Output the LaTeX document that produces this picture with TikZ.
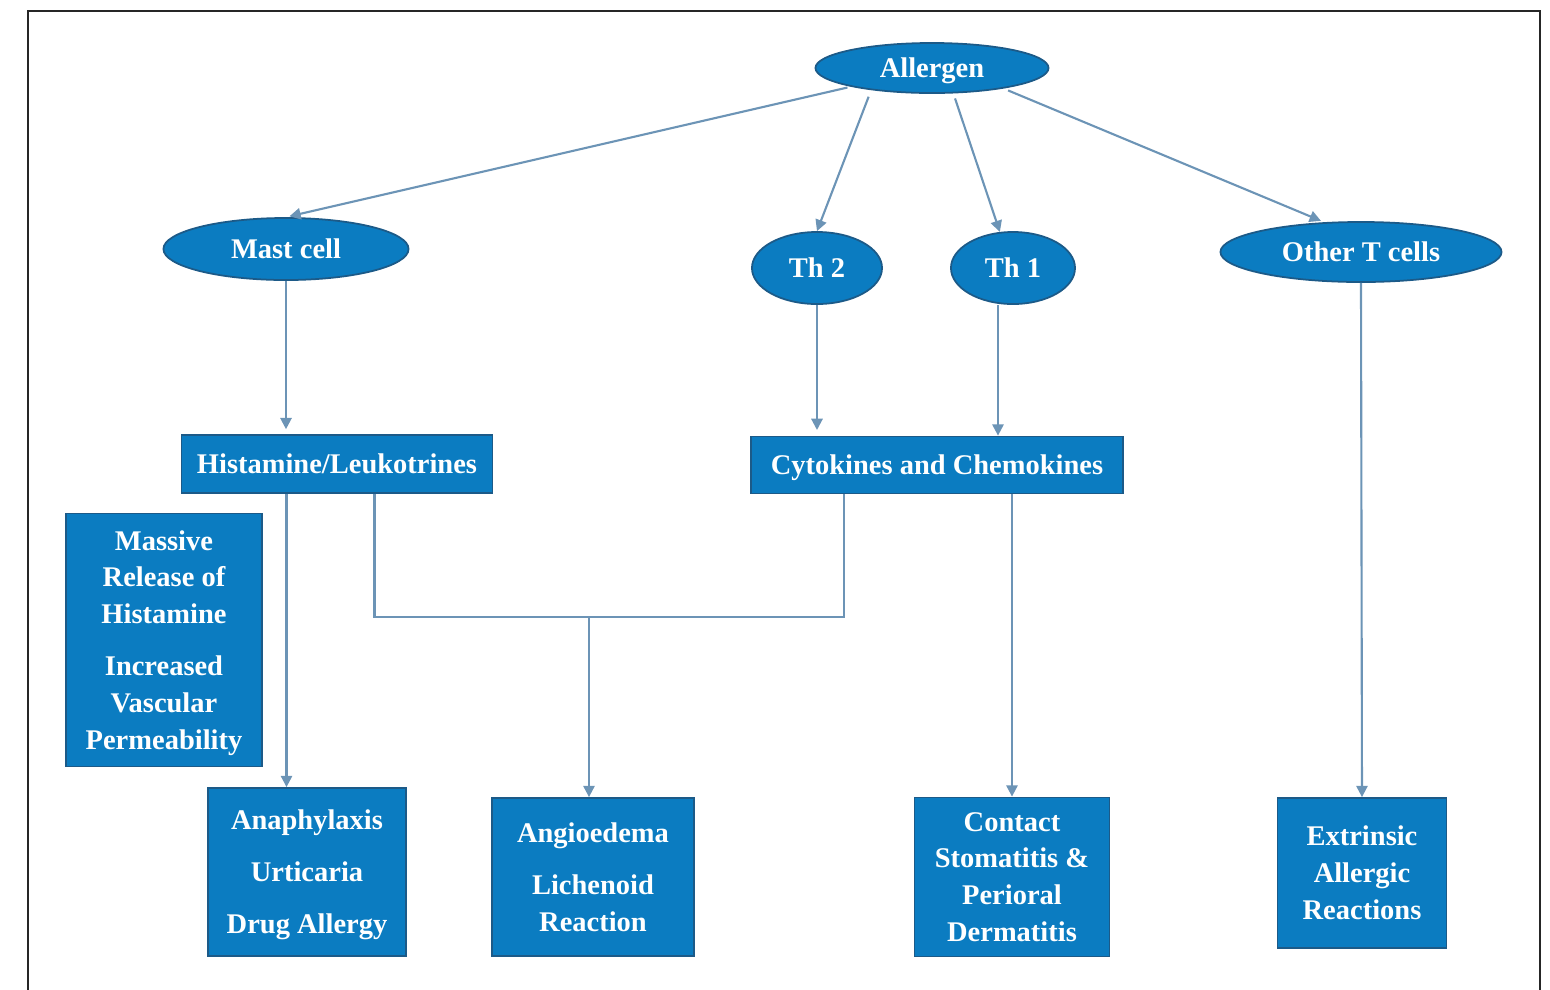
\documentclass[tikz,border=0pt]{standalone}
\usepackage{fontspec}
\setmainfont{Liberation Serif}
\usepackage{xcolor}
\usepackage{tikz}
\usetikzlibrary{calc,arrows.meta,shapes.geometric}

\definecolor{cellblue}{RGB}{11,124,193}
\definecolor{edgeblue}{RGB}{28,90,136}
\definecolor{linkgray}{RGB}{108,148,182}

\begin{document}
\begin{tikzpicture}[x=0.01cm, y=-0.01cm,
    cell/.style={ellipse, draw=edgeblue, fill=cellblue, text=white, line width=0.5pt, inner sep=0pt,
                 text depth=0pt, font=\fontsize{8.1}{10.5}\selectfont\bfseries},
    effect/.style={rectangle, draw=edgeblue, fill=cellblue, text=white, line width=0.5pt, inner sep=0pt,
                   text depth=0pt, align=center, font=\fontsize{8.1}{10.5}\selectfont\bfseries},
    link/.style={draw=linkgray, line width=0.6pt},
    arr/.style={link, -{Triangle[width=3.2pt,length=3.2pt]}}]

                \useasboundingbox (0,0) rectangle (1550,990);
                \draw[line width=0.45pt, black!85] (28,990) -- (28,11) -- (1540,11) -- (1540,990);

                % ellipses
                \node[cell, minimum width=2.33cm, minimum height=0.50cm] (allergen) at (932,68) {Allergen};
                \node[cell, minimum width=2.45cm, minimum height=0.62cm] (mast) at (286,249) {Mast cell};
                \node[cell, minimum width=1.30cm, minimum height=0.72cm] (th2) at (817,268) {Th 2};
                \node[cell, minimum width=1.24cm, minimum height=0.72cm] (th1) at (1013,268) {Th 1};
                \node[cell, minimum width=2.81cm, minimum height=0.60cm] (other) at (1361,252) {Other T cells};

                % boxes
                \node[effect, minimum width=3.11cm, minimum height=0.58cm] (hist) at (337,464) {Histamine/Leukotrines};
                \node[effect, minimum width=3.72cm, minimum height=0.57cm] (cyto) at (937,465) {Cytokines and Chemokines};
                \node[effect, minimum width=1.96cm, minimum height=2.53cm] (release) at (164,640) {Massive\\Release of\\Histamine\\[4.3pt]Increased\\Vascular\\Permeability};
                \node[effect, minimum width=1.98cm, minimum height=1.68cm] (ana) at (307,872) {Anaphylaxis\\[4.3pt]Urticaria\\[4.3pt]Drug Allergy};
                \node[effect, minimum width=2.02cm, minimum height=1.58cm] (angio) at (593,877) {Angioedema\\[4.3pt]Lichenoid\\Reaction};
                \node[effect, minimum width=1.95cm, minimum height=1.59cm] (contact) at (1012,877) {Contact\\Stomatitis \&\\Perioral\\Dermatitis};
                \node[effect, minimum width=1.69cm, minimum height=1.50cm] (extr) at (1362,873) {Extrinsic\\Allergic\\Reactions};

                % from the allergen
                \draw[arr, shorten <=1pt, shorten >=1pt] (allergen.193) -- (mast.north);
                \draw[arr, shorten <=2pt] (allergen.200) -- (th2.north);
                \draw[arr, shorten <=1.5pt] (allergen.310) -- (th1.110);
                \draw[arr, shorten <=1.4pt, shorten >=1pt] (allergen.344) -- (other.141);

                % cells to mediators
                \coordinate (th1out) at ($(th1.south)+(-15,0)$);
                \draw[arr, shorten >=1.4pt] (mast.south) -- (mast.south |- hist.north);
                \draw[arr, shorten >=1.6pt] (th2.south) -- (th2.south |- cyto.north);
                \draw[arr] (th1out) -- (th1out |- cyto.north);

                % mediators to reactions
                \coordinate (histout) at ($(hist.south west)+(106,0)$);
                \coordinate (histjoin) at ($(hist.south west)+(194,0)$);
                \coordinate (cytojoin) at ($(cyto.south west)+(94,0)$);
                \coordinate (merge) at (589,617);
                \draw[arr] (histout) -- (histout |- ana.north);
                \draw[link] (histjoin) -- (histjoin |- merge) -- (cytojoin |- merge) -- (cytojoin);
                \draw[arr] (merge) -- (merge |- angio.north);
                \draw[arr] (contact.north |- cyto.south) -- (contact.north);
                \draw[arr] (other.south) -- (extr.north);

\end{tikzpicture}
\end{document}
